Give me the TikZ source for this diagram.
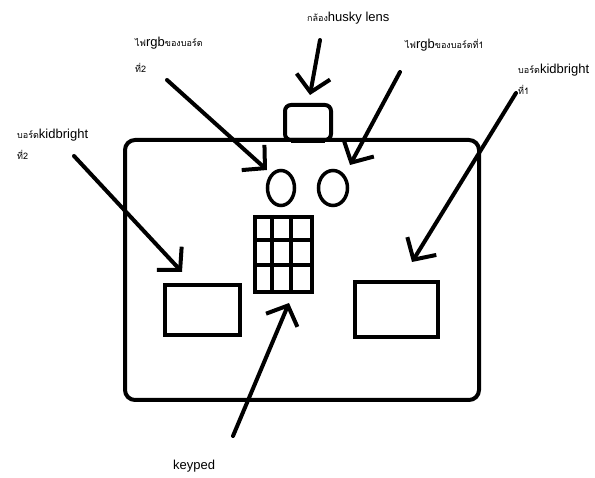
\documentclass[tikz,border=0pt]{standalone}
\usepackage{fontspec}
\setmainfont{Liberation Sans}
\newfontfamily\thaifont[Script=Thai]{Loma}
\usetikzlibrary{shapes.geometric,arrows.meta}
\tikzset{
  lbl/.style={font=\fontsize{13}{15}\selectfont, inner sep=0pt, anchor=base west},
  box/.style={draw, line width=4pt, inner sep=0pt},
  ptr/.style={line width=4pt, line cap=round, -{Straight Barb[length=16pt,width=34pt,line width=4pt]}},
}
\newcommand{\thtxt}[1]{{\thaifont\fontsize{9}{10}\selectfont #1}}
\begin{document}
\begin{tikzpicture}[x=1pt,y=-1pt]
\useasboundingbox (0,0) rectangle (595,478);
% board
\node[box, rounded corners=10pt, minimum width=354pt, minimum height=260pt] (board) at (302,270) {};
\node[box, rounded corners=6pt, minimum width=46pt, minimum height=35pt] (cam) at (308,122.5) {};
\draw[line width=3pt] ([xshift=8pt]cam.south west) -- ([xshift=-8pt]cam.south east);
\node[draw, ellipse, line width=3.5pt, minimum width=27pt, minimum height=35pt] (rgbL) at (281,188) {};
\node[draw, ellipse, line width=3.5pt, minimum width=29pt, minimum height=35pt] (rgbR) at (333,188) {};
\node[box, minimum width=57pt, minimum height=75pt] (keys) at (283.5,254.5) {};
\draw[line width=4pt] (keys.north west) ++(19,0) -- ++(0,75)
      (keys.north west) ++(38,0) -- ++(0,75)
      (keys.north west) ++(0,25) -- ++(57,0)
      (keys.north west) ++(0,50) -- ++(57,0);
\node[box, minimum width=75pt, minimum height=50pt] (kbL) at (202.5,310) {};
\node[box, minimum width=83pt, minimum height=55pt] (kbR) at (396.5,309.5) {};
% labels
\node[lbl] (tcam) at (307,22) {\thtxt{กล้อง}husky lens};
\node[lbl] (trgbL) at (135,47) {\thtxt{ไฟ}rgb\thtxt{ของบอร์ด}};
\node[lbl] (trgbL2) at (135,73) {\thtxt{ที่2}};
\node[lbl] (trgbR) at (405,49) {\thtxt{ไฟ}rgb\thtxt{ของบอร์ดที่1}};
\node[lbl] (tkbR) at (518,74) {\thtxt{บอร์ด}kidbright};
\node[lbl] (tkbR2) at (518,95) {\thtxt{ที่1}};
\node[lbl] (tkbL) at (17,139) {\thtxt{บอร์ด}kidbright};
\node[lbl] (tkbL2) at (17,160) {\thtxt{ที่2}};
\node[lbl] (tkey) at (173,470) {keyped};
% arrow ends
\coordinate (a1s) at (320,40);  \coordinate (a1e) at (310,95);
\coordinate (a2s) at (167,80);  \coordinate (a2e) at (267,170);
\coordinate (a3s) at (400,72);  \coordinate (a3e) at (350,165);
\coordinate (a4s) at (516,93);  \coordinate (a4e) at (412,262);
\coordinate (a5s) at (74,156);  \coordinate (a5e) at (182,272);
\coordinate (a6s) at (233,436); \coordinate (a6e) at (289,303);
\draw[ptr] (a1s) -- (a1e);
\draw[ptr] (a2s) -- (a2e);
\draw[ptr] (a3s) -- (a3e);
\draw[ptr] (a4s) -- (a4e);
\draw[ptr] (a5s) -- (a5e);
\draw[ptr] (a6s) -- (a6e);
\end{tikzpicture}
\end{document}
